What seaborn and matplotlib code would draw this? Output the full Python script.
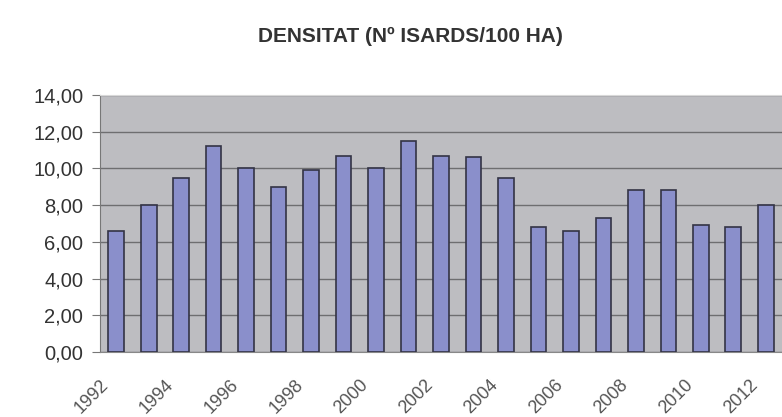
import matplotlib
matplotlib.use("Agg")
import matplotlib.pyplot as plt
import seaborn as sns
import numpy as np

# dades: densitat d'isards per any
anys = [str(a) for a in range(1992, 2013)]
densitat = [6.6, 8.0, 9.5, 11.2, 10.0, 9.0, 9.9, 10.7, 10.0, 11.5, 10.7,
            10.6, 9.5, 6.8, 6.6, 7.3, 8.8, 8.8, 6.9, 6.8, 8.0]
titol = "DENSITAT (Nº ISARDS/100 HA)"

sns.set_style("white")
plt.rcParams['font.family'] = ['Liberation Sans', 'DejaVu Sans']

fig = plt.figure(figsize=(7.82, 4.17), dpi=100)
ax = fig.add_axes([100 / 782, 1 - 352 / 417, 1 - 100 / 782, (352 - 95) / 417])
ax.set_facecolor('#bdbdc1')

sns.barplot(x=anys, y=densitat, color='#8a8fcb', width=0.48,
            edgecolor='#333345', linewidth=1.2, saturation=1, ax=ax, zorder=3)

ax.set_ylim(0, 14)
ax.set_xlim(-0.5, 20.29)
ax.set_yticks(np.arange(0, 15, 2))
ax.set_yticklabels([f"{v:.2f}".replace('.', ',') for v in np.arange(0, 15, 2)],
                   fontsize=14.5, color='#333333')
ax.yaxis.grid(True, color='#6e6e70', linewidth=1, zorder=1)
ax.set_axisbelow(True)

# etiquetes cada dos anys, girades 45 graus (una mica desplaçades a l'esquerra)
pos = np.arange(0, len(anys), 2)
ax.set_xticks(pos - 0.32)
ax.set_xticklabels([anys[i] for i in pos], rotation=45, ha='right', va='center',
                   rotation_mode='anchor', fontsize=13, color='#555555')
ax.set_xticks(np.arange(-0.5, len(anys), 1), minor=True)
ax.tick_params(axis='x', which='major', length=0, pad=22)
ax.tick_params(axis='x', which='minor', length=5, color='#888888', width=1)
ax.tick_params(axis='y', which='major', left=True, length=6, color='#777777', pad=6)
ax.set_xlabel("")
ax.set_ylabel("")

ax.spines['right'].set_visible(False)
ax.spines['top'].set_color('#d8d8d8')
ax.spines['left'].set_color('#777777')
ax.spines['bottom'].set_color('#888888')

fig.text(410 / 782, 1 - 36 / 417, titol, ha='center', va='center',
         fontsize=15, fontweight='bold', color='#333333')

fig.savefig("out.png", dpi=100)
